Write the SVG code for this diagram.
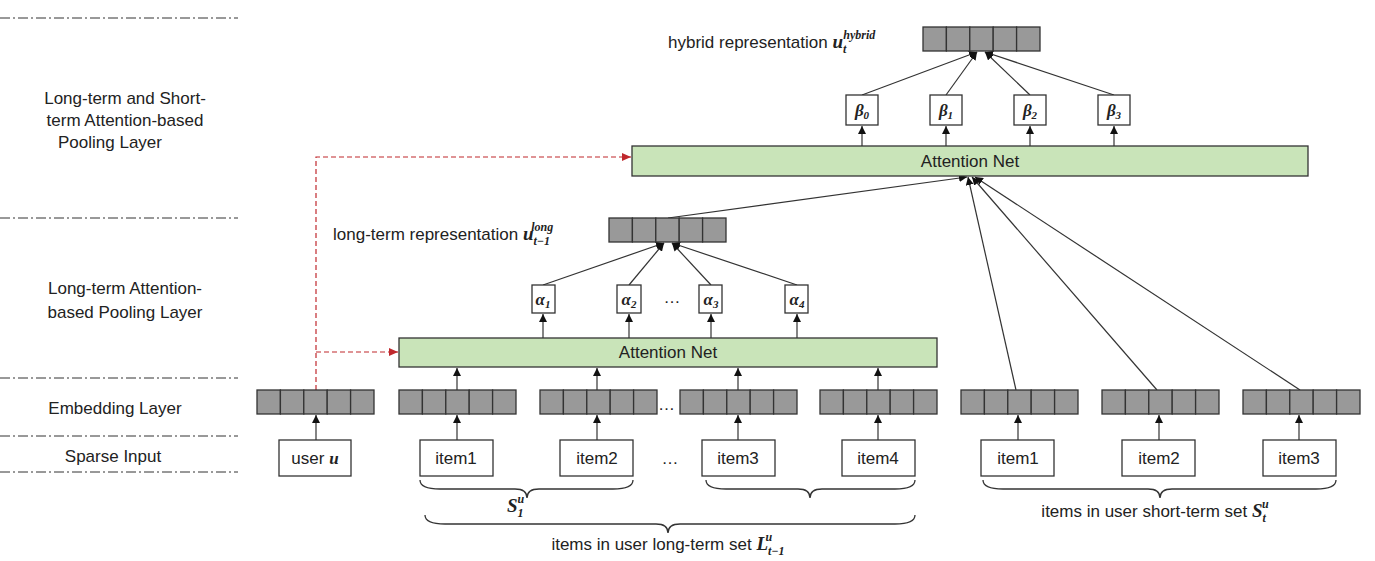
<svg xmlns="http://www.w3.org/2000/svg" width="1375" height="561" viewBox="0 0 1375 561">
<style>
text{font-family:"Liberation Sans",Arial,sans-serif;font-size:17px;fill:#222}
.m{font-family:"Liberation Serif",serif;font-style:italic;font-weight:bold}
.c{text-anchor:middle}
.sep{stroke:#333;stroke-dasharray:10 3 2 3;stroke-width:1}
.cell{fill:#999;stroke:#333;stroke-width:1.3}
.box{fill:#fff;stroke:#333;stroke-width:1.3}
.att{fill:#c9e4b9;stroke:#333;stroke-width:1.3}
.ln{stroke:#333;stroke-width:1.2;fill:none}
.red{stroke:#c0282d;stroke-width:1.2;stroke-dasharray:5 3;fill:none}
.br{stroke:#333;stroke-width:1.3;fill:none}
</style>
<defs>
<marker id="a" markerWidth="8" markerHeight="8" refX="8" refY="4" orient="auto" markerUnits="userSpaceOnUse"><path d="M0,0L8,4L0,8z" fill="#111"/></marker>
<marker id="r" markerWidth="9" markerHeight="8" refX="9" refY="4" orient="auto" markerUnits="userSpaceOnUse"><path d="M0,0L9,4L0,8z" fill="#c0282d"/></marker>
<g id="v"><rect class="cell" x="0" y="0" width="23.4" height="24"/><rect class="cell" x="23.4" y="0" width="23.4" height="24"/><rect class="cell" x="46.8" y="0" width="23.4" height="24"/><rect class="cell" x="70.2" y="0" width="23.4" height="24"/><rect class="cell" x="93.6" y="0" width="23.4" height="24"/></g>
</defs>
<g id="layers">
<line class="sep" x1="0" y1="18" x2="238" y2="18"/>
<line class="sep" x1="0" y1="218" x2="238" y2="218"/>
<line class="sep" x1="0" y1="378" x2="238" y2="378"/>
<line class="sep" x1="0" y1="436" x2="238" y2="436"/>
<line class="sep" x1="0" y1="472" x2="238" y2="472"/>
<text class="c" x="125" y="104">Long-term and Short-</text>
<text class="c" x="125" y="126">term Attention-based</text>
<text class="c" x="110" y="148">Pooling  Layer</text>
<text class="c" x="125" y="294">Long-term Attention-</text>
<text class="c" x="125" y="318">based Pooling  Layer</text>
<text class="c" x="115" y="414">Embedding  Layer</text>
<text class="c" x="113" y="462">Sparse Input</text>
</g>
<g id="connectors">
<path class="red" d="M316,390V157H631" marker-end="url(#r)"/>
<path class="red" d="M316,352H398" marker-end="url(#r)"/>
<line class="ln" x1="316" y1="440" x2="316" y2="415" marker-end="url(#a)"/>
<line class="ln" x1="457" y1="440" x2="457" y2="415" marker-end="url(#a)"/>
<line class="ln" x1="597" y1="440" x2="597" y2="415" marker-end="url(#a)"/>
<line class="ln" x1="738" y1="440" x2="738" y2="415" marker-end="url(#a)"/>
<line class="ln" x1="878" y1="440" x2="878" y2="415" marker-end="url(#a)"/>
<line class="ln" x1="1018" y1="440" x2="1018" y2="415" marker-end="url(#a)"/>
<line class="ln" x1="1159" y1="440" x2="1159" y2="415" marker-end="url(#a)"/>
<line class="ln" x1="1299" y1="440" x2="1299" y2="415" marker-end="url(#a)"/>
<line class="ln" x1="457" y1="390" x2="457" y2="368" marker-end="url(#a)"/>
<line class="ln" x1="597" y1="390" x2="597" y2="368" marker-end="url(#a)"/>
<line class="ln" x1="738" y1="390" x2="738" y2="368" marker-end="url(#a)"/>
<line class="ln" x1="878" y1="390" x2="878" y2="368" marker-end="url(#a)"/>
<line class="ln" x1="543" y1="338" x2="543" y2="314" marker-end="url(#a)"/>
<line class="ln" x1="629" y1="338" x2="629" y2="314" marker-end="url(#a)"/>
<line class="ln" x1="711" y1="338" x2="711" y2="314" marker-end="url(#a)"/>
<line class="ln" x1="797" y1="338" x2="797" y2="314" marker-end="url(#a)"/>
<line class="ln" x1="543" y1="285" x2="664" y2="243" marker-end="url(#a)"/>
<line class="ln" x1="629" y1="285" x2="664" y2="243" marker-end="url(#a)"/>
<line class="ln" x1="711" y1="285" x2="672" y2="243" marker-end="url(#a)"/>
<line class="ln" x1="797" y1="285" x2="672" y2="243" marker-end="url(#a)"/>
<line class="ln" x1="668" y1="218" x2="967" y2="177" marker-end="url(#a)"/>
<line class="ln" x1="1016" y1="390" x2="968" y2="177" marker-end="url(#a)"/>
<line class="ln" x1="1157" y1="390" x2="972" y2="177" marker-end="url(#a)"/>
<line class="ln" x1="1300" y1="390" x2="975" y2="177" marker-end="url(#a)"/>
<line class="ln" x1="862" y1="146" x2="862" y2="126" marker-end="url(#a)"/>
<line class="ln" x1="946" y1="146" x2="946" y2="126" marker-end="url(#a)"/>
<line class="ln" x1="1030" y1="146" x2="1030" y2="126" marker-end="url(#a)"/>
<line class="ln" x1="1114" y1="146" x2="1114" y2="126" marker-end="url(#a)"/>
<line class="ln" x1="862" y1="95" x2="977" y2="52" marker-end="url(#a)"/>
<line class="ln" x1="946" y1="95" x2="977" y2="52" marker-end="url(#a)"/>
<line class="ln" x1="1030" y1="95" x2="985" y2="52" marker-end="url(#a)"/>
<line class="ln" x1="1114" y1="95" x2="985" y2="52" marker-end="url(#a)"/>
</g>
<g id="embeddings">
<use href="#v" x="257" y="390"/>
<use href="#v" x="399" y="390"/>
<use href="#v" x="540" y="390"/>
<use href="#v" x="680" y="390"/>
<use href="#v" x="820" y="390"/>
<use href="#v" x="961" y="390"/>
<use href="#v" x="1102" y="390"/>
<use href="#v" x="1243" y="390"/>
<text x="658" y="410">…</text>
</g>
<g id="inputs">
<rect class="box" x="279" y="440" width="72" height="36"/><text class="c" x="315" y="464">user <tspan class="m">u</tspan></text>
<rect class="box" x="420" y="440" width="73" height="36"/><text class="c" x="456" y="464">item1</text>
<rect class="box" x="560" y="440" width="73" height="36"/><text class="c" x="597" y="464">item2</text>
<text class="c" x="670" y="464">…</text>
<rect class="box" x="702" y="440" width="73" height="36"/><text class="c" x="738" y="464">item3</text>
<rect class="box" x="842" y="440" width="73" height="36"/><text class="c" x="878" y="464">item4</text>
<rect class="box" x="981" y="440" width="73" height="36"/><text class="c" x="1018" y="464">item1</text>
<rect class="box" x="1122" y="440" width="73" height="36"/><text class="c" x="1159" y="464">item2</text>
<rect class="box" x="1263" y="440" width="73" height="36"/><text class="c" x="1299" y="464">item3</text>
</g>
<g id="att1"><rect class="att" x="399" y="338" width="538" height="29"/><text class="c" x="668" y="358">Attention Net</text></g>
<g id="alphas">
<rect class="box" x="532" y="285" width="23" height="28"/><text class="c m" x="543" y="305">α<tspan font-size="11" dy="3">1</tspan></text>
<rect class="box" x="617" y="285" width="24" height="28"/><text class="c m" x="629" y="305">α<tspan font-size="11" dy="3">2</tspan></text>
<text class="c" x="672" y="303">…</text>
<rect class="box" x="699" y="285" width="23" height="28"/><text class="c m" x="711" y="305">α<tspan font-size="11" dy="3">3</tspan></text>
<rect class="box" x="785" y="285" width="23" height="28"/><text class="c m" x="797" y="305">α<tspan font-size="11" dy="3">4</tspan></text>
</g>
<g id="long"><use href="#v" x="609" y="218"/>
<text x="333" y="240">long-term representation <tspan class="m" font-size="19">u</tspan><tspan class="m" font-size="12" dy="5">t−1</tspan><tspan class="m" font-size="12" dx="-19" dy="-14">long</tspan></text></g>
<g id="att2"><rect class="att" x="632" y="146" width="676" height="30"/><text class="c" x="970" y="167">Attention Net</text></g>
<g id="betas">
<rect class="box" x="846" y="95" width="32" height="30"/><text class="c m" x="862" y="116">β<tspan font-size="11" dy="3">0</tspan></text>
<rect class="box" x="930" y="95" width="32" height="30"/><text class="c m" x="946" y="116">β<tspan font-size="11" dy="3">1</tspan></text>
<rect class="box" x="1014" y="95" width="32" height="30"/><text class="c m" x="1030" y="116">β<tspan font-size="11" dy="3">2</tspan></text>
<rect class="box" x="1098" y="95" width="32" height="30"/><text class="c m" x="1114" y="116">β<tspan font-size="11" dy="3">3</tspan></text>
</g>
<g id="hybrid"><use href="#v" x="923" y="27"/>
<text x="668" y="48">hybrid representation <tspan class="m" font-size="19">u</tspan><tspan class="m" font-size="12" dy="5">t</tspan><tspan class="m" font-size="12" dx="-3" dy="-14">hybrid</tspan></text></g>
<g id="braces">
<path class="br" d="M420,480Q420,489 440,489H515Q527,489 527,498Q527,489 539,489H613Q633,489 633,480"/>
<path class="br" d="M706,480Q706,489 726,489H798Q810,489 810,498Q810,489 822,489H895Q915,489 915,480"/>
<path class="br" d="M425,515Q425,524 445,524H656Q668,524 668,533Q668,524 680,524H895Q915,524 915,515"/>
<path class="br" d="M983,480Q983,489 1003,489H1148Q1160,489 1160,498Q1160,489 1172,489H1316Q1336,489 1336,480"/>
<text x="507" y="512"><tspan class="m" font-size="19">S</tspan><tspan class="m" font-size="12" dy="5">1</tspan><tspan class="m" font-size="12" dx="-6" dy="-14">u</tspan></text>
<text class="c" x="668" y="550">items in user long-term set <tspan class="m" font-size="19">L</tspan><tspan class="m" font-size="12" dy="5">t−1</tspan><tspan class="m" font-size="12" dx="-19" dy="-14">u</tspan></text>
<text class="c" x="1155" y="517">items in user short-term set <tspan class="m" font-size="19">S</tspan><tspan class="m" font-size="12" dy="5">t</tspan><tspan class="m" font-size="12" dx="-4" dy="-14">u</tspan></text>
</g>
</svg>
